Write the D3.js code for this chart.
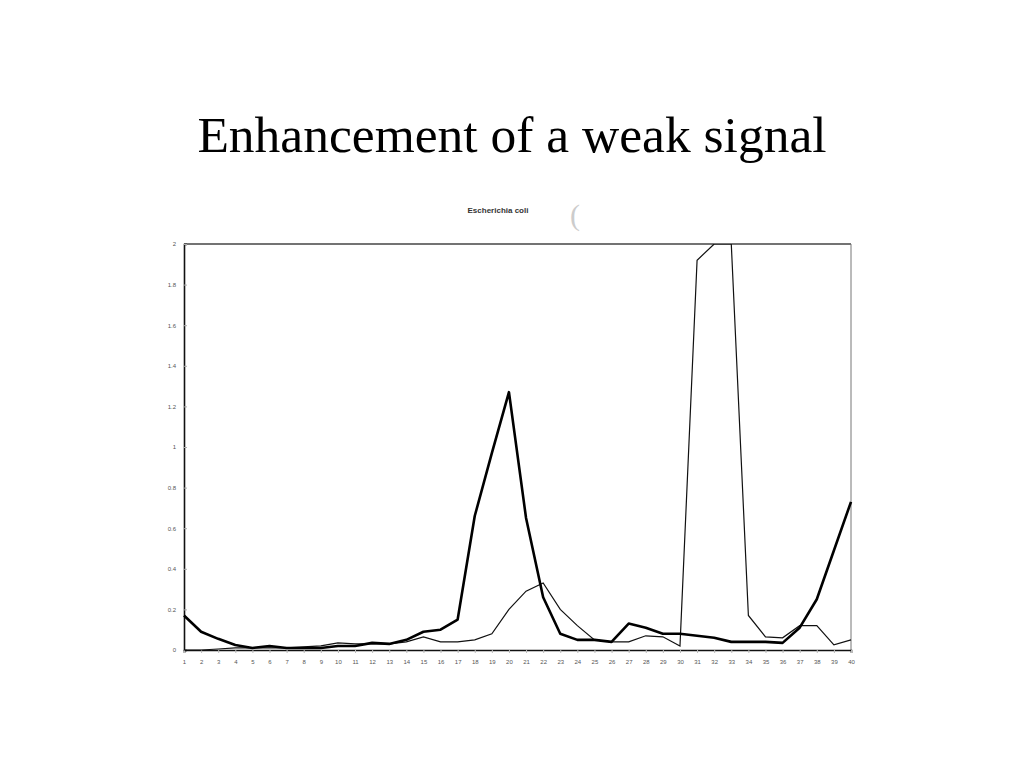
<!DOCTYPE html>
<html><head><meta charset="utf-8">
<script src="https://cdn.jsdelivr.net/npm/d3@7"></script>
<style>body{margin:0;background:#fff}svg{display:block}</style>
</head><body>
<svg id="c" width="1024" height="768"></svg>
<script>
const title = "Enhancement of a weak signal";
const subtitle = "Escherichia coli";
const categories = ["1","2","3","4","5","6","7","8","9","10","11","12","13","14","15","16","17","18","19","20",
  "21","22","23","24","25","26","27","28","29","30","31","32","33","34","35","36","37","38","39","40"];
const thickSeries = [0.17,0.09,0.055,0.025,0.01,0.02,0.01,0.01,0.01,0.02,0.02,0.035,0.03,0.05,0.09,0.10,0.15,0.66,0.97,1.27,
  0.65,0.26,0.08,0.05,0.05,0.04,0.13,0.11,0.08,0.08,0.07,0.06,0.04,0.04,0.04,0.035,0.11,0.25,0.49,0.73];
const thinSeries = [0.0,0.0,0.005,0.01,0.01,0.01,0.01,0.015,0.02,0.035,0.03,0.03,0.03,0.04,0.065,0.04,0.04,0.05,0.08,0.2,
  0.29,0.33,0.2,0.12,0.05,0.04,0.04,0.07,0.065,0.02,1.92,2.0,2.0,0.17,0.065,0.06,0.12,0.12,0.025,0.05];
const yTicks = [0,0.2,0.4,0.6,0.8,1,1.2,1.4,1.6,1.8,2];
const yTickLabels = ["0","0.2","0.4","0.6","0.8","1","1.2","1.4","1.6","1.8","2"];

const svg = d3.select("#c");
const L = 184, R = 851, T = 244, B = 650;
const x = d3.scalePoint().domain(categories).range([L, R]);
const y = d3.scaleLinear().domain([0, 2]).range([B, T]);

svg.append("text").attr("x", 512).attr("y", 152).attr("text-anchor", "middle")
  .attr("font-family", "Liberation Serif, Times New Roman, serif").attr("font-size", 51.5)
  .attr("fill", "#000").text(title);
svg.append("text").attr("x", 498).attr("y", 213).attr("text-anchor", "middle")
  .attr("font-family", "Liberation Sans, Arial, sans-serif").attr("font-size", 8).attr("font-weight", "bold")
  .attr("fill", "#333").text(subtitle);
svg.append("text").attr("x", 575).attr("y", 225).attr("text-anchor", "middle")
  .attr("font-family", "Liberation Serif, serif").attr("font-size", 30).attr("fill", "#ccc").text("(");

// frame
svg.append("line").attr("x1", L).attr("x2", R).attr("y1", T).attr("y2", T).attr("stroke", "#444").attr("stroke-width", 1.6);
svg.append("line").attr("x1", R).attr("x2", R).attr("y1", T).attr("y2", B).attr("stroke", "#777").attr("stroke-width", 1);

// y axis
const yAxis = d3.axisLeft(y).tickValues(yTicks).tickFormat((d, i) => yTickLabels[i]).tickSize(-3).tickPadding(8);
const gy = svg.append("g").attr("transform", `translate(${L},0)`).call(yAxis);
gy.select(".domain").attr("stroke", "#111").attr("stroke-width", 1.6);
gy.selectAll(".tick line").attr("stroke", "#aaa");
gy.selectAll("text").attr("font-family", "Liberation Sans, Arial, sans-serif").attr("font-size", 6).attr("fill", "#555");

// x axis
const xAxis = d3.axisBottom(x).tickSize(3).tickPadding(7);
const gx = svg.append("g").attr("transform", `translate(0,${B})`).call(xAxis);
gx.select(".domain").attr("stroke", "#111").attr("stroke-width", 1.6);
gx.selectAll(".tick line").attr("stroke", "#bbb");
gx.selectAll("text").attr("font-family", "Liberation Sans, Arial, sans-serif").attr("font-size", 6)
  .attr("fill", "#555").attr("text-anchor", "middle");

svg.append("clipPath").attr("id", "pc").append("rect")
  .attr("x", L - 2).attr("y", T).attr("width", R - L + 4).attr("height", B - T + 2);

const line = d3.line().x((d, i) => x(categories[i])).y(d => y(d));
svg.append("path").datum(thinSeries).attr("d", line).attr("fill", "none")
  .attr("stroke", "#111").attr("stroke-width", 1.2).attr("clip-path", "url(#pc)");
svg.append("path").datum(thickSeries).attr("d", line).attr("fill", "none")
  .attr("stroke", "#000").attr("stroke-width", 2.6).attr("stroke-linejoin", "round").attr("clip-path", "url(#pc)");
</script>
</body></html>
